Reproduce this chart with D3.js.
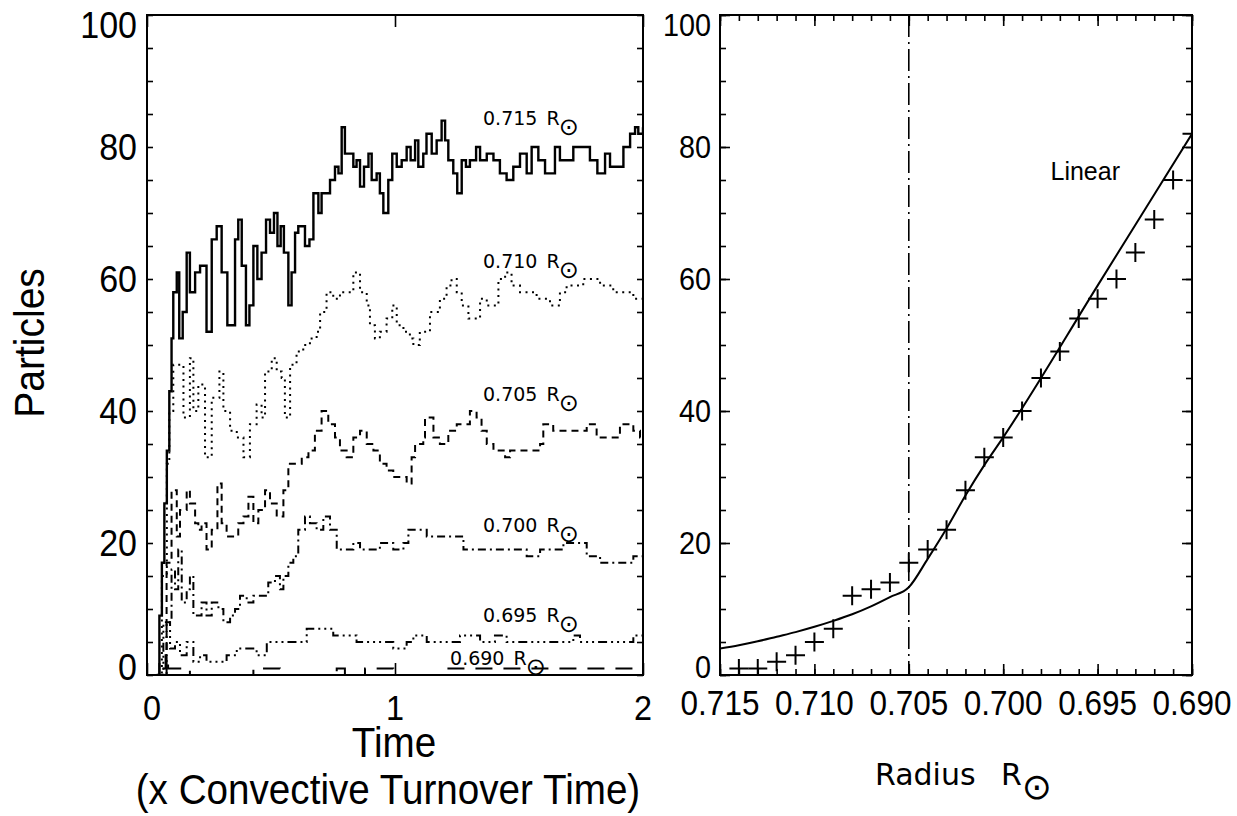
<!DOCTYPE html>
<html>
<head>
<meta charset="utf-8">
<script src="https://cdn.jsdelivr.net/npm/d3@7"></script>
<style>
  body { margin: 0; background: #fff; }
  svg { display: block; }
</style>
</head>
<body>
<svg id="fig" width="1237" height="816"></svg>
<script>
// ---- data ----
const timeTicks = [0, 1, 2];
const countTicks = [0, 20, 40, 60, 80, 100];
const radiusTicks = [0.715, 0.710, 0.705, 0.700, 0.695, 0.690];
const radiusTickLabels = ['0.715', '0.710', '0.705', '0.700', '0.695', '0.690'];
const shellNames = ['0.715', '0.710', '0.705', '0.700', '0.695', '0.690'];

// particle counts vs time, [time, count]
const shell715 = [[0.039,0],[0.05,9],[0.06,17],[0.07,26],[0.08,34],[0.09,43],[0.099,51],[0.106,58],[0.12,61],[0.13,51],[0.144,55],[0.16,64],[0.173,58],[0.194,61],[0.214,62],[0.24,52],[0.261,66],[0.281,68],[0.301,61],[0.324,53],[0.341,53],[0.355,66],[0.368,69],[0.382,62],[0.399,53],[0.413,56],[0.429,65],[0.445,60],[0.462,64],[0.48,69],[0.496,67],[0.512,70],[0.526,65],[0.539,68],[0.552,64],[0.57,56],[0.583,61],[0.597,67],[0.61,68],[0.624,68],[0.637,65],[0.655,66],[0.671,73],[0.691,70],[0.704,73],[0.718,73],[0.738,75],[0.758,77],[0.772,76],[0.785,83],[0.798,79],[0.819,79],[0.832,77],[0.845,78],[0.859,74],[0.875,77],[0.893,79],[0.906,75],[0.926,76],[0.939,73],[0.953,70],[0.973,75],[0.989,79],[1.007,77],[1.027,78],[1.047,80],[1.063,78],[1.081,81],[1.094,77],[1.114,79],[1.127,82],[1.148,79],[1.168,81],[1.188,84],[1.202,81],[1.215,78],[1.235,76],[1.251,73],[1.269,78],[1.286,77],[1.302,78],[1.327,80],[1.343,78],[1.37,79],[1.397,78],[1.423,76],[1.45,75],[1.477,77],[1.504,79],[1.531,76],[1.551,80],[1.578,78],[1.605,76],[1.645,80],[1.665,78],[1.692,78],[1.719,80],[1.759,80],[1.786,78],[1.816,76],[1.847,79],[1.867,77],[1.907,77],[1.921,80],[1.948,82],[1.968,83],[1.981,82],[2.0,83]];
const shell710 = [[0.04,0],[0.06,15],[0.08,32],[0.09,40],[0.106,47],[0.147,39],[0.173,48],[0.187,40],[0.207,44],[0.234,33],[0.261,42],[0.292,46],[0.308,40],[0.335,37],[0.362,36],[0.389,33],[0.415,38],[0.442,41],[0.462,39],[0.476,46],[0.503,48],[0.523,46],[0.543,45],[0.556,39],[0.577,47],[0.603,49],[0.63,50],[0.657,51],[0.684,52],[0.698,55],[0.724,58],[0.751,57],[0.778,58],[0.805,58],[0.832,61],[0.859,58],[0.886,56],[0.899,53],[0.919,51],[0.939,52],[0.966,54],[0.989,56],[1.007,53],[1.034,52],[1.06,51],[1.074,50],[1.1,52],[1.141,55],[1.181,57],[1.208,59],[1.228,60],[1.249,58],[1.269,56],[1.296,54],[1.316,54],[1.343,57],[1.37,56],[1.397,56],[1.417,60],[1.444,61],[1.47,59],[1.504,58],[1.531,58],[1.571,57],[1.598,57],[1.625,56],[1.665,58],[1.692,59],[1.719,59],[1.759,60],[1.786,60],[1.827,59],[1.88,58],[1.934,58],[1.961,57],[2.0,57]];
const shell705 = [[0.035,0],[0.079,17],[0.099,28],[0.12,21],[0.133,25],[0.16,28],[0.173,26],[0.194,23],[0.207,22],[0.22,23],[0.24,19],[0.261,22],[0.284,29],[0.301,23],[0.321,21],[0.348,21],[0.368,23],[0.389,24],[0.409,27],[0.429,23],[0.449,25],[0.476,28],[0.496,26],[0.523,24],[0.55,28],[0.57,32],[0.597,32],[0.624,33],[0.651,34],[0.677,37],[0.704,40],[0.731,38],[0.758,36],[0.778,34],[0.805,33],[0.832,36],[0.859,37],[0.886,35],[0.913,34],[0.939,32],[0.966,31],[0.993,30],[1.02,30],[1.047,29],[1.067,33],[1.081,35],[1.114,36],[1.121,39],[1.155,36],[1.181,35],[1.215,37],[1.249,38],[1.302,40],[1.329,39],[1.349,37],[1.37,35],[1.397,34],[1.444,33],[1.464,34],[1.504,34],[1.585,35],[1.598,38],[1.638,37],[1.773,38],[1.813,36],[1.853,36],[1.907,38],[1.961,37],[1.988,36],[2.0,36]];
const shell700 = [[0.035,0],[0.079,8],[0.099,16],[0.113,13],[0.126,19],[0.14,11],[0.16,13],[0.173,15],[0.187,9],[0.207,9],[0.22,11],[0.24,9],[0.261,11],[0.288,10],[0.308,8],[0.335,9],[0.355,10],[0.375,12],[0.402,11],[0.429,12],[0.456,12],[0.489,14],[0.516,15],[0.536,13],[0.55,15],[0.57,17],[0.59,18],[0.61,22],[0.637,24],[0.657,23],[0.684,22],[0.711,24],[0.738,22],[0.765,19],[0.792,19],[0.832,20],[0.859,19],[0.899,19],[0.939,20],[0.993,19],[1.034,20],[1.054,22],[1.087,22],[1.128,21],[1.181,21],[1.235,21],[1.276,19],[1.316,19],[1.37,19],[1.423,19],[1.477,19],[1.531,18],[1.585,19],[1.638,19],[1.679,20],[1.732,20],[1.773,18],[1.827,17],[1.907,17],[1.961,18],[2.0,18]];
const shell695 = [[0.035,0],[0.066,8],[0.093,4],[0.113,5],[0.133,3],[0.16,5],[0.187,2],[0.214,3],[0.24,2],[0.281,2],[0.321,3],[0.362,4],[0.402,4],[0.442,3],[0.483,5],[0.536,5],[0.59,5],[0.617,5],[0.644,7],[0.684,7],[0.724,7],[0.751,6],[0.805,6],[0.845,5],[0.886,5],[0.939,5],[0.993,4],[1.047,5],[1.074,6],[1.128,5],[1.181,5],[1.262,6],[1.316,6],[1.343,5],[1.403,6],[1.45,5],[1.719,6],[1.746,5],[1.961,6],[2.0,6]];
const shell690 = [[0.03,0],[0.05,2],[0.06,1],[0.075,3],[0.085,1],[0.099,1],[0.173,0],[0.429,1],[0.536,0],[0.765,1],[0.798,0],[0.879,1],[0.993,0],[1.195,1],[2.0,1]];

// binned counts vs radius (crosses) and the fitted curve
const binRadius = [0.714,0.713,0.712,0.711,0.710,0.709,0.708,0.707,0.706,0.705,0.704,0.703,0.702,0.701,0.700,0.699,0.698,0.697,0.696,0.695,0.694,0.693,0.692,0.691,0.690];
const binCount  = [1,1,2,3,5,7,12,13,14,17,19,22,28,33,36,40,45,49,54,57,60,64,69,75,82];
const fitRadius = [0.715,0.714,0.713,0.712,0.711,0.710,0.709,0.708,0.707,0.706,0.705,0.704,0.703,0.702,0.701,0.700,0.695,0.690];
const fitCount  = [4,4.5,5.1,5.8,6.5,7.3,8.2,9.2,10.4,11.8,13.3,17.6,22.2,27.2,31.8,36,59,82];
const boundaryRadius = 0.705;

// ---- layout ----
const svg = d3.select('#fig');
const yTop = 15, yBot = 675;
const xT = d3.scaleLinear().domain([0, 2]).range([147, 643]);
const xR = d3.scaleLinear().domain([0.715, 0.690]).range([720, 1192]);
const y = d3.scaleLinear().domain([0, 100]).range([yBot, yTop]);

const helv = '"Liberation Sans", Arial, Helvetica, sans-serif';
const hershey = '"DejaVu Sans", sans-serif';

const shells = [
  { name: shellNames[0], data: shell715, width: 2.4, dash: null,              at: [1.355, 83.3] },
  { name: shellNames[1], data: shell710, width: 2,   dash: '2,4.5',           at: [1.355, 61.7] },
  { name: shellNames[2], data: shell705, width: 2,   dash: '7,5',             at: [1.355, 41.5] },
  { name: shellNames[3], data: shell700, width: 2,   dash: '8,4,2,4',         at: [1.355, 21.7] },
  { name: shellNames[4], data: shell695, width: 2,   dash: '9,4,2,4,2,4,2,4', at: [1.355, 8.0] },
  { name: shellNames[5], data: shell690, width: 2,   dash: '17,11',           at: [1.222, 1.5] }
];

const defs = svg.append('defs');
defs.append('clipPath').attr('id', 'clipL').append('rect')
  .attr('x', xT(0)).attr('y', yTop).attr('width', xT(2) - xT(0)).attr('height', yBot - yTop);
defs.append('clipPath').attr('id', 'clipR').append('rect')
  .attr('x', xR(0.715)).attr('y', yTop).attr('width', xR(0.690) - xR(0.715)).attr('height', yBot - yTop);

function tickSet(axisFn, scale, values, size, tx, ty) {
  svg.append('g')
    .attr('transform', `translate(${tx},${ty})`)
    .call(axisFn(scale).tickValues(values).tickSize(-size).tickSizeOuter(0).tickFormat(''))
    .call(g => g.select('.domain').remove())
    .selectAll('line').attr('stroke', '#000').attr('stroke-width', 1.6);
}

function squeezedText(x, yy, str, size, anchor, sx) {
  return svg.append('text')
    .attr('transform', `translate(${x},${yy}) scale(${sx},1)`)
    .attr('text-anchor', anchor)
    .attr('font-family', helv)
    .attr('font-size', size)
    .text(str);
}

// ---- left panel: counts vs time ----
const stepLine = d3.line().x(d => xT(d[0])).y(d => y(d[1])).curve(d3.curveStepAfter);

const gL = svg.append('g').attr('clip-path', 'url(#clipL)');
gL.selectAll('path.shell')
  .data(shells)
  .join('path')
  .attr('class', 'shell')
  .attr('d', s => stepLine(s.data))
  .attr('fill', 'none')
  .attr('stroke', '#000')
  .attr('stroke-width', s => s.width)
  .attr('stroke-dasharray', s => s.dash)
  .attr('stroke-linejoin', 'miter');

const countMinor = d3.range(0, 101, 5);
tickSet(d3.axisLeft, y, countMinor, 6, xT(0), 0);
tickSet(d3.axisRight, y, countMinor, 6, xT(2), 0);
tickSet(d3.axisBottom, xT, timeTicks, 12, 0, yBot);
tickSet(d3.axisTop, xT, timeTicks, 12, 0, yTop);

svg.append('rect')
  .attr('x', xT(0)).attr('y', yTop).attr('width', xT(2) - xT(0)).attr('height', yBot - yTop)
  .attr('fill', 'none').attr('stroke', '#000').attr('stroke-width', 2);

// end labels are nudged inside the axis span, as in the original
const endShift = v => v === 100 ? 10 : v === 0 ? -8 : 0;
countTicks.forEach(v => squeezedText(xT(0) - 10, y(v) + 13 + endShift(v), String(v), 37, 'end', 0.92));
timeTicks.forEach(v => squeezedText(xT(v) + (v === 0 ? 5 : 0), yBot + 45, String(v), 36, 'middle', 0.9));

squeezedText(394, 757, 'Time', 42, 'middle', 0.92);
squeezedText(388, 804, '(x Convective Turnover Time)', 42, 'middle', 0.92);
svg.append('text')
  .attr('transform', 'translate(44,343) rotate(-90) scale(0.93,1)')
  .attr('text-anchor', 'middle')
  .attr('font-family', helv)
  .attr('font-size', 42)
  .text('Particles');

// curve labels
shells.forEach(s => {
  const t = svg.append('text')
    .attr('x', xT(s.at[0])).attr('y', y(s.at[1]))
    .attr('font-family', hershey).attr('font-size', 19).attr('fill', '#000');
  t.append('tspan').text(s.name);
  t.append('tspan').attr('dx', 9).text('R');
  t.append('tspan').attr('dx', -1).attr('dy', 10).attr('font-size', 24).text('⊙');
});

// ---- right panel: counts vs radius ----
const gR = svg.append('g').attr('clip-path', 'url(#clipR)');

gR.append('line')
  .attr('x1', xR(boundaryRadius)).attr('x2', xR(boundaryRadius))
  .attr('y1', yTop).attr('y2', yBot)
  .attr('stroke', '#000').attr('stroke-width', 1.6)
  .attr('stroke-dasharray', '22,5,2,5');

const fitLine = d3.line().x((d, i) => xR(fitRadius[i])).y(d => y(d)).curve(d3.curveMonotoneX);
gR.append('path')
  .attr('d', fitLine(fitCount))
  .attr('fill', 'none').attr('stroke', '#000').attr('stroke-width', 2);

const arm = 9.5;
gR.selectAll('path.cross')
  .data(binCount)
  .join('path')
  .attr('class', 'cross')
  .attr('d', (d, i) => {
    const cx = xR(binRadius[i]), cy = y(d);
    return `M${cx - arm},${cy}H${cx + arm}M${cx},${cy - arm}V${cy + arm}`;
  })
  .attr('stroke', '#000').attr('stroke-width', 2).attr('fill', 'none');

const radiusMinor = d3.range(0, 26).map(i => 0.715 - i * 0.001);
const countMajor = countTicks;
tickSet(d3.axisBottom, xR, radiusMinor, 6, 0, yBot);
tickSet(d3.axisBottom, xR, radiusTicks, 11, 0, yBot);
tickSet(d3.axisTop, xR, radiusMinor, 6, 0, yTop);
tickSet(d3.axisTop, xR, radiusTicks, 11, 0, yTop);
tickSet(d3.axisLeft, y, countMinor, 6, xR(0.715), 0);
tickSet(d3.axisLeft, y, countMajor, 10, xR(0.715), 0);
tickSet(d3.axisRight, y, countMinor, 6, xR(0.690), 0);
tickSet(d3.axisRight, y, countMajor, 10, xR(0.690), 0);

svg.append('rect')
  .attr('x', xR(0.715)).attr('y', yTop).attr('width', xR(0.690) - xR(0.715)).attr('height', yBot - yTop)
  .attr('fill', 'none').attr('stroke', '#000').attr('stroke-width', 2);

countTicks.forEach(v => squeezedText(xR(0.715) - 9, y(v) + 11 + endShift(v), String(v), 32, 'end', 0.9));
radiusTicks.forEach((v, i) => squeezedText(xR(v), yBot + 40, radiusTickLabels[i], 35, 'middle', 0.9));

squeezedText(1120, 180, 'Linear', 25, 'end', 1);

const rad = svg.append('text')
  .attr('x', 875).attr('y', 785)
  .attr('font-family', hershey).attr('font-size', 30).attr('fill', '#000');
rad.append('tspan').text('Radius');
rad.append('tspan').attr('x', 1001).text('R');
rad.append('tspan').attr('dx', 0).attr('dy', 14).attr('font-size', 36).text('⊙');
</script>
</body>
</html>
